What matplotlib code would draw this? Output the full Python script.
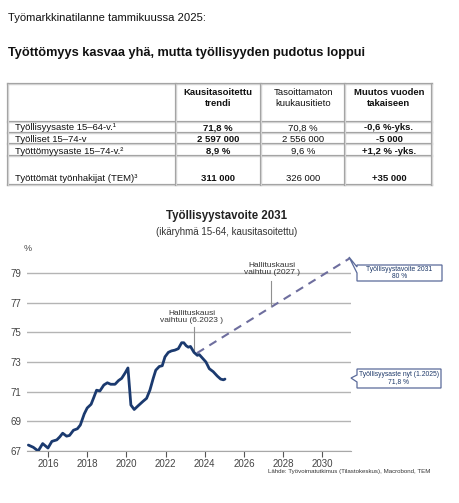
import matplotlib
matplotlib.use('Agg')
import matplotlib.pyplot as plt
from matplotlib.patches import Polygon

plt.rcParams['font.family'] = ['Liberation Sans', 'DejaVu Sans']

# --- data ---------------------------------------------------------------
otsikko_pieni = 'Työmarkkinatilanne tammikuussa 2025:'
otsikko = 'Työttömyys kasvaa yhä, mutta työllisyyden pudotus loppui'

sarake_otsikot = ['Kausitasoitettu\ntrendi', 'Tasoittamaton\nkuukausitieto', 'Muutos vuoden\ntakaiseen']
rivi_nimet = ['Työllisyysaste 15–64-v.¹', 'Työlliset 15–74-v', 'Työttömyysaste 15–74-v.²',
              'Työttömät työnhakijat (TEM)³']
trendi = ['71,8 %', '2 597 000', '8,9 %', '311 000']
kuukausi = ['70,8 %', '2 556 000', '9,6 %', '326 000']
muutos = ['-0,6 %-yks.', '-5 000', '+1,2 % -yks.', '+35 000']

vuodet = [2015.00, 2015.25, 2015.50, 2015.73, 2016.00, 2016.20, 2016.45, 2016.60, 2016.75,
          2016.95, 2017.10, 2017.30, 2017.50, 2017.65, 2017.85, 2018.00, 2018.20, 2018.32,
          2018.48, 2018.65, 2018.85, 2019.03, 2019.20, 2019.42, 2019.60, 2019.76, 2019.93,
          2020.08, 2020.23, 2020.40, 2020.60, 2020.85, 2021.03, 2021.20, 2021.37, 2021.50,
          2021.68, 2021.83, 2021.97, 2022.14, 2022.30, 2022.47, 2022.65, 2022.82, 2022.93,
          2023.05, 2023.16, 2023.27, 2023.45, 2023.62, 2023.72, 2023.89, 2024.06, 2024.23,
          2024.43, 2024.64, 2024.81, 2024.95, 2025.03]
tyollisyysaste = [67.40, 67.25, 67.00, 67.50, 67.20, 67.65, 67.75, 67.95, 68.20,
                  68.00, 68.05, 68.40, 68.50, 68.75, 69.50, 69.90, 70.15, 70.55,
                  71.10, 71.05, 71.45, 71.60, 71.50, 71.50, 71.75, 71.90, 72.25,
                  72.60, 70.10, 69.80, 70.05, 70.35, 70.55, 71.10, 71.90, 72.45,
                  72.70, 72.75, 73.35, 73.65, 73.75, 73.80, 73.90, 74.30, 74.30,
                  74.10, 74.00, 74.05, 73.65, 73.45, 73.50, 73.25, 73.00, 72.55,
                  72.35, 72.05, 71.85, 71.80, 71.85]

tavoite_x = [2023.6, 2031.4]
tavoite_y = [73.6, 80.0]

# --- figure -------------------------------------------------------------
W, H = 459, 503
fig = plt.figure(figsize=(W / 100, H / 100), dpi=100)

def fx(px):
    return px / W

def fy(py):
    return 1 - py / H

# chart axes
ax = fig.add_axes([fx(27), fy(451), (351 - 27) / W, (451 - 250.8) / H])
ax.set_xlim(2014.93, 2031.46)
ax.set_ylim(67, 80.5)
for s in ['top', 'right', 'left']:
    ax.spines[s].set_visible(False)
ax.spines['bottom'].set_color('#a8a8a8')
ax.set_yticks(range(67, 80, 2))
ax.set_xticks(range(2016, 2031, 2))
ax.yaxis.grid(True, color='#b4b4b4', lw=1)
ax.set_axisbelow(True)
ax.tick_params(axis='y', length=0, pad=4, labelsize=7, labelcolor='#444444')
ax.tick_params(axis='x', length=4, width=0.8, color='#555555', pad=2,
               labelsize=7, labelcolor='#444444')

ax.plot(vuodet, tyollisyysaste, color='#1b3a6f', lw=2, solid_capstyle='round', zorder=3)
ax.plot(tavoite_x, tavoite_y, color='#6e6e9e', lw=1.5, dashes=(4, 3), zorder=2)

# pointer lines for the notes
ax.plot([2023.45, 2023.45], [73.65, 75.35], color='#909090', lw=0.8)
ax.plot([2027.4, 2027.4], [76.75, 78.45], color='#909090', lw=0.8)

# overlay axes in pixel coordinates
ax0 = fig.add_axes([0, 0, 1, 1], facecolor='none')
ax0.set_xlim(0, W)
ax0.set_ylim(H, 0)
ax0.axis('off')

ax0.text(8, 18, otsikko_pieni, fontsize=8.1, va='center', ha='left', color='#111111')
ax0.text(8, 53, otsikko, fontsize=9.2, fontweight='bold', va='center', ha='left', color='#111111')

# table
xs_v = [8, 176, 261, 345, 432]
ys_h = [84, 122, 133, 144, 156, 185]
def viiva(x, y):
    ax0.plot(x, y, color='#a4a4a4', lw=1.6, solid_capstyle='projecting')
    ax0.plot(x, y, color='#eeeeee', lw=0.45, solid_capstyle='projecting')
for yy in ys_h:
    viiva([xs_v[0], xs_v[-1]], [yy, yy])
for xx in xs_v:
    viiva([xx, xx], [ys_h[0], ys_h[-1]])

keskit = [218, 303, 389]
painot = ['bold', 'normal', 'bold']
fs_t = 6.8
for k, otsake in enumerate(sarake_otsikot):
    rivit = otsake.split('\n')
    for j, r in enumerate(rivit):
        ax0.text(keskit[k], 95 + 11 * j, r, fontsize=fs_t, fontweight=painot[k], ha='center',
                 va='baseline', color='#111111')

rivi_y = [130.5, 141.8, 153.5, 181]
for i, nimi in enumerate(rivi_nimet):
    ax0.text(15, rivi_y[i], nimi, fontsize=fs_t, ha='left', va='baseline', color='#111111')
    ax0.text(keskit[0], rivi_y[i], trendi[i], fontsize=fs_t, fontweight='bold', ha='center',
             va='baseline', color='#111111')
    ax0.text(keskit[1], rivi_y[i], kuukausi[i], fontsize=fs_t, ha='center', va='baseline',
             color='#111111')
    ax0.text(keskit[2], rivi_y[i], muutos[i], fontsize=fs_t, fontweight='bold', ha='center',
             va='baseline', color='#111111')

# chart titles
ax0.text(227, 216, 'Työllisyystavoite 2031', fontsize=8.3, fontweight='bold', ha='center',
         va='center', color='#222222')
ax0.text(227, 232, '(ikäryhmä 15-64, kausitasoitettu)', fontsize=7, ha='center', va='center',
         color='#333333')
ax0.text(28, 248, '%', fontsize=6.5, ha='center', va='center', color='#444444')

# notes
ax0.text(192, 317, 'Hallituskausi\nvaihtuu (6.2023 )', fontsize=6, ha='center', va='center',
         linespacing=1.15, color='#333333')
ax0.text(272, 269, 'Hallituskausi\nvaihtuu (2027 )', fontsize=6, ha='center', va='center',
         linespacing=1.15, color='#333333')

# callout boxes
box1 = [(357, 265), (442, 265), (442, 281), (357, 281), (357, 273), (349, 257), (357, 267)]
ax0.add_patch(Polygon(box1, closed=True, facecolor='white', edgecolor='#5a6a9a', lw=0.9))
ax0.text(399.5, 269.5, 'Työllisyystavoite 2031', fontsize=4.9, ha='center', va='center',
         color='#1f3a6a')
ax0.text(399.5, 276.5, '80 %', fontsize=4.9, ha='center', va='center', color='#1f3a6a')

box2 = [(357, 369), (441, 369), (441, 388), (357, 388), (357, 382), (351, 378), (357, 375)]
ax0.add_patch(Polygon(box2, closed=True, facecolor='white', edgecolor='#5a6a9a', lw=0.9))
ax0.text(399, 374.5, 'Työllisyysaste nyt (1.2025)', fontsize=4.9, ha='center', va='center',
         color='#1f3a6a')
ax0.text(399, 382, '71,8 %', fontsize=4.9, ha='center', va='center', color='#1f3a6a')

ax0.text(430, 472, 'Lähde: Työvoimatutkimus (Tilastokeskus), Macrobond, TEM', fontsize=4.4,
         ha='right', va='center', color='#333333')

fig.savefig('out.png', dpi=100)
